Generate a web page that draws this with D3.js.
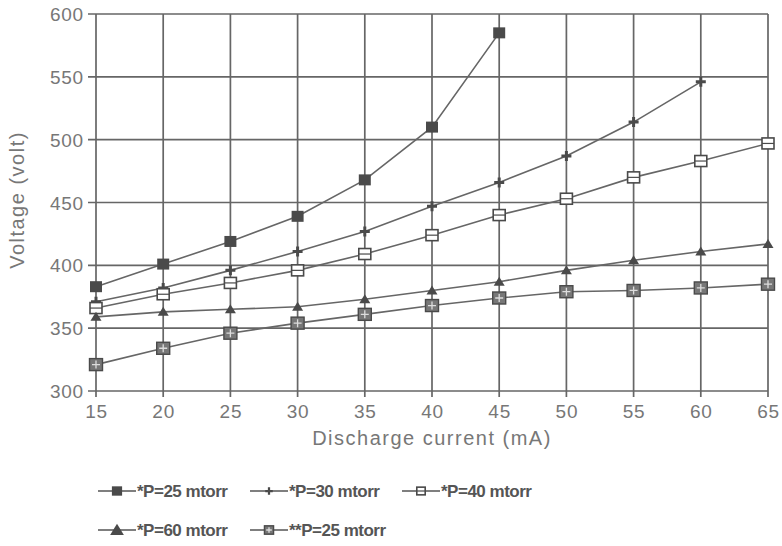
<!DOCTYPE html>
<html>
<head>
<meta charset="utf-8">
<script src="https://cdn.jsdelivr.net/npm/d3@7"></script>
<style>
  html, body { margin: 0; padding: 0; background: #fff; }
  svg { display: block; }
</style>
</head>
<body>
<svg id="chart" width="782" height="546"></svg>
<script>
// Discharge current (mA) and measured voltages (volt)
const current = [15, 20, 25, 30, 35, 40, 45, 50, 55, 60, 65];
const p25 = [383, 401, 419, 439, 468, 510, 585];
const p30 = [371, 382, 396, 411, 427, 447, 466, 487, 514, 546];
const p40 = [366, 377, 386, 396, 409, 424, 440, 453, 470, 483, 497];
const p60 = [359, 363, 365, 367, 373, 380, 387, 396, 404, 411, 417];
const p25b = [321, 334, 346, 354, 361, 368, 374, 379, 380, 382, 385];

const xTicks = [15, 20, 25, 30, 35, 40, 45, 50, 55, 60, 65];
const yTicks = [300, 350, 400, 450, 500, 550, 600];

const seriesNames = ["*P=25 mtorr", "*P=30 mtorr", "*P=40 mtorr", "*P=60 mtorr", "**P=25 mtorr"];
const seriesValues = [p25, p30, p40, p60, p25b];
const seriesMarkers = ["filledSquare", "plus", "openSquare", "triangle", "crossSquare"];

const svg = d3.select("#chart");
const ink = "#666";
const markInk = "#4a4a4a";
const textInk = "#777";

const x = d3.scaleLinear().domain([15, 65]).range([96, 768]);
const y = d3.scaleLinear().domain([300, 600]).range([391, 14]);

// grid
const grid = svg.append("g");
grid.selectAll("line.v").data(xTicks).join("line")
  .attr("x1", d => x(d)).attr("x2", d => x(d))
  .attr("y1", y(600)).attr("y2", y(300))
  .attr("stroke", ink).attr("stroke-width", 1.7);
grid.selectAll("line.h").data(yTicks).join("line")
  .attr("x1", x(15) - 8).attr("x2", x(65))
  .attr("y1", d => y(d)).attr("y2", d => y(d))
  .attr("stroke", ink).attr("stroke-width", 1.7);
grid.selectAll("line.xt").data(xTicks).join("line")
  .attr("x1", d => x(d)).attr("x2", d => x(d))
  .attr("y1", y(300)).attr("y2", y(300) + 6)
  .attr("stroke", ink).attr("stroke-width", 1.7);

// tick labels
const font = "'Liberation Sans', Arial, sans-serif";
svg.append("g").selectAll("text").data(yTicks).join("text")
  .attr("x", 84).attr("y", d => y(d) + 7)
  .attr("text-anchor", "end")
  .attr("font-family", font).attr("font-size", 19)
  .attr("fill", textInk).attr("letter-spacing", 0.8)
  .text(d => d);
svg.append("g").selectAll("text").data(xTicks).join("text")
  .attr("x", d => x(d) + 0.5).attr("y", 418)
  .attr("text-anchor", "middle")
  .attr("font-family", font).attr("font-size", 19)
  .attr("fill", textInk).attr("letter-spacing", 0.8)
  .text(d => d);

// axis titles
svg.append("text")
  .attr("x", 432).attr("y", 445)
  .attr("text-anchor", "middle")
  .attr("font-family", font).attr("font-size", 20)
  .attr("fill", textInk).attr("letter-spacing", 1.5)
  .text("Discharge current (mA)");
svg.append("text")
  .attr("transform", "translate(24,200) rotate(-90)")
  .attr("text-anchor", "middle")
  .attr("font-family", font).attr("font-size", 20)
  .attr("fill", textInk).attr("letter-spacing", 1.5)
  .text("Voltage (volt)");

// marker drawing
function drawMarker(g, type, cx, cy, scale) {
  const s = scale || 1;
  if (type === "filledSquare") {
    g.append("rect").attr("x", cx - 6 * s).attr("y", cy - 5.5 * s)
      .attr("width", 12 * s).attr("height", 11 * s).attr("fill", markInk);
  } else if (type === "plus") {
    g.append("path")
      .attr("d", `M${cx - 5 * s},${cy}H${cx + 5 * s}M${cx},${cy - 5 * s}V${cy + 5 * s}`)
      .attr("stroke", markInk).attr("stroke-width", 3 * s);
  } else if (type === "openSquare") {
    g.append("rect").attr("x", cx - 6 * s).attr("y", cy - 5.5 * s)
      .attr("width", 12 * s).attr("height", 11 * s)
      .attr("fill", "#fff").attr("stroke", markInk).attr("stroke-width", 1.6);
    g.append("line").attr("x1", cx - 6 * s).attr("x2", cx + 6 * s)
      .attr("y1", cy).attr("y2", cy).attr("stroke", markInk).attr("stroke-width", 1.2);
  } else if (type === "triangle") {
    g.append("path")
      .attr("d", `M${cx},${cy - 5 * s}L${cx + 5.5 * s},${cy + 4 * s}L${cx - 5.5 * s},${cy + 4 * s}Z`)
      .attr("fill", markInk);
  } else if (type === "crossSquare") {
    g.append("rect").attr("x", cx - 6.5 * s).attr("y", cy - 6 * s)
      .attr("width", 13 * s).attr("height", 12 * s)
      .attr("fill", "#777").attr("stroke", markInk).attr("stroke-width", 1.4);
    g.append("path")
      .attr("d", `M${cx - 4 * s},${cy}H${cx + 4 * s}M${cx},${cy - 4 * s}V${cy + 4 * s}`)
      .attr("stroke", "#ddd").attr("stroke-width", 1.3);
  }
}

// series lines and markers
const line = d3.line().x((d, i) => x(current[i])).y(d => y(d));
seriesValues.forEach((vals, k) => {
  svg.append("path").datum(vals)
    .attr("d", line)
    .attr("fill", "none").attr("stroke", ink).attr("stroke-width", 1.6);
  const g = svg.append("g");
  vals.forEach((v, i) => drawMarker(g, seriesMarkers[k], x(current[i]), y(v), 1));
});

// legend
const legendPos = [
  [98, 497], [250, 497], [402, 497],
  [98, 536], [250, 536]
];
const legendScale = [0.85, 0.75, 0.7, 1.25, 0.7];
seriesNames.forEach((name, k) => {
  const [lx, ly] = legendPos[k];
  const cy = ly - 6;
  const g = svg.append("g");
  g.append("line").attr("x1", lx).attr("x2", lx + 38)
    .attr("y1", cy).attr("y2", cy)
    .attr("stroke", "#555").attr("stroke-width", 1.6);
  drawMarker(g, seriesMarkers[k], lx + 19, cy, legendScale[k]);
  g.append("text").attr("x", lx + 39).attr("y", ly)
    .attr("font-family", font)
    .attr("font-size", 17).attr("font-weight", "bold")
    .attr("fill", "#555").attr("letter-spacing", -0.5)
    .text(name);
});
</script>
</body>
</html>
